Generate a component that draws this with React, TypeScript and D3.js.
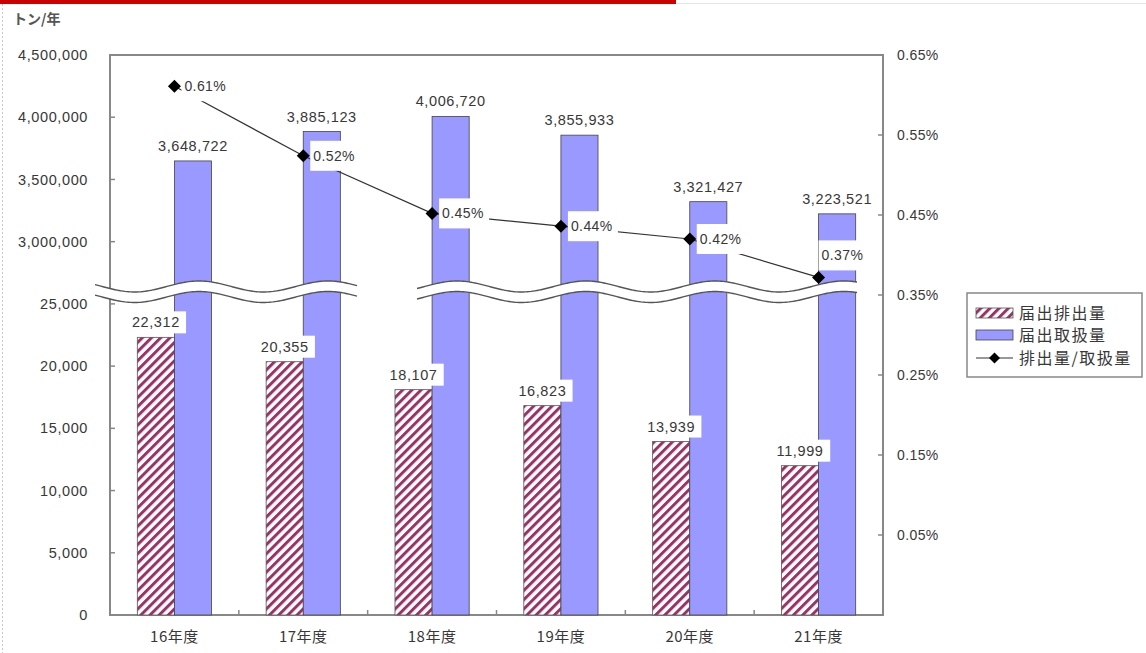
import React from "react";
import * as d3 from "d3";

const categories = ["16年度", "17年度", "18年度", "19年度", "20年度", "21年度"];
const emissions = [22312, 20355, 18107, 16823, 13939, 11999];
const handled = [3648722, 3885123, 4006720, 3855933, 3321427, 3223521];
const ratio = [0.611, 0.524, 0.452, 0.436, 0.42, 0.372];
const lowTicks = [0, 5000, 10000, 15000, 20000, 25000];
const highTicks = [3000000, 3500000, 4000000, 4500000];
const rightTicks = [0.05, 0.15, 0.25, 0.35, 0.45, 0.55, 0.65];
const legendLabels = ["届出排出量", "届出取扱量", "排出量/取扱量"];
const unitLabel = "トン/年";

const W = 1146, H = 653;
const L = 110, R = 883, T = 55, B = 615;
const NUM = "'Liberation Sans', Arial, sans-serif";
const JP = "'Noto Sans CJK JP', 'Noto Sans CJK SC', sans-serif";
const TXT = "#383838";

const x = d3.scaleBand<string>().domain(categories).range([L, R]).padding(0);
const units = d3.scaleLinear().domain([0, 9]).range([B, T]);
const yLow = d3.scaleLinear().domain([0, 25000]).range([units(0), units(5)]);
const yHigh = d3.scaleLinear().domain([3000000, 4500000]).range([units(6), units(9)]);
const yR = d3.scaleLinear().domain([-0.05, 0.65]).range([B, T]);
const fmt = d3.format(",");
const barW = x.bandwidth() * 0.288;

function wavePath(x0: number, x1: number) {
  const up = (xx: number) => 286.5 - 5.5 * Math.cos((2 * Math.PI * (xx - 70)) / 129);
  const pts: [number, number][] = d3.range(x0, x1 + 0.01, 2).map((xx) => [xx, up(xx)]);
  const upper = d3.line()(pts) as string;
  const lowerPts: [number, number][] = pts.map(([a, b]) => [a, b + 10.5]);
  const lower = d3.line()(lowerPts) as string;
  const fill = (d3.line()([...pts, ...lowerPts.slice().reverse()]) as string) + "Z";
  return { upper, lower, fill };
}
const waves = [wavePath(95, 358), wavePath(417, 858)];

const diamondPath = (r: number) => `M0,${-r}L${r},0L0,${r}L${-r},0Z`;

export default function App() {
  const cx = (c: string) => (x(c) as number) + x.bandwidth() / 2;
  const linePts: [number, number][] = categories.map((c, i) => [cx(c), yR(ratio[i])]);
  return (
    <svg width={W} height={H} style={{ position: "absolute", left: 0, top: 0, background: "#fff" }}>
      <defs>
        <pattern id="hatch" patternUnits="userSpaceOnUse" width={6.5} height={6.5} patternTransform="rotate(45)">
          <rect width={6.5} height={6.5} fill="#fff" />
          <rect width={3} height={6.5} fill="#993366" />
        </pattern>
      </defs>
      {/* page decorations */}
      <rect x={0} y={0} width={676} height={4} fill="#cc0000" />
      <line x1={676} y1={3.5} x2={W} y2={3.5} stroke="#e4e4e4" />
      <line x1={2.5} y1={4} x2={2.5} y2={H} stroke="#c8c8c8" strokeDasharray="2,2" />
      <text x={13} y={24} fontFamily={JP} fontSize={14} fontWeight="bold" fill="#555">{unitLabel}</text>

      {/* frame */}
      <rect x={L} y={T} width={R - L} height={B - T} fill="none" stroke="#888" strokeWidth={2} />
      {lowTicks.map((t) => (
        <g key={"l" + t}>
          <line x1={L} x2={L + 5} y1={yLow(t)} y2={yLow(t)} stroke="#888" strokeWidth={1.5} />
          <text x={88} y={yLow(t)} dy="0.35em" textAnchor="end" fontFamily={NUM} fontSize={14.5} letterSpacing={0.6} fill={TXT}>{fmt(t)}</text>
        </g>
      ))}
      {highTicks.map((t) => (
        <g key={"h" + t}>
          <line x1={L} x2={L + 5} y1={yHigh(t)} y2={yHigh(t)} stroke="#888" strokeWidth={1.5} />
          <text x={88} y={yHigh(t)} dy="0.35em" textAnchor="end" fontFamily={NUM} fontSize={14.5} letterSpacing={0.6} fill={TXT}>{fmt(t)}</text>
        </g>
      ))}
      {rightTicks.map((t) => (
        <g key={"r" + t}>
          <line x1={R - 5} x2={R} y1={yR(t)} y2={yR(t)} stroke="#888" strokeWidth={1.5} />
          <text x={897} y={yR(t)} dy="0.35em" fontFamily={NUM} fontSize={14} letterSpacing={0.4} fill={TXT}>{t.toFixed(2) + "%"}</text>
        </g>
      ))}
      {categories.slice(1).map((c) => (
        <line key={"b" + c} x1={x(c)} x2={x(c)} y1={B} y2={B - 5} stroke="#888" strokeWidth={1.5} />
      ))}
      {categories.map((c) => (
        <text key={"x" + c} x={cx(c)} y={642} textAnchor="middle" fontFamily={JP} fontSize={15} letterSpacing={0.5} fill={TXT}>{c}</text>
      ))}

      {/* bars */}
      {categories.map((c, i) => (
        <g key={"bar" + c}>
          <rect x={cx(c) - barW} y={yLow(emissions[i])} width={barW} height={B - yLow(emissions[i])} fill="url(#hatch)" stroke="#555" strokeWidth={0.8} />
          <rect x={cx(c)} y={yHigh(handled[i])} width={barW} height={B - yHigh(handled[i])} fill="#9999ff" stroke="#444" strokeWidth={0.8} />
        </g>
      ))}

      {/* axis break */}
      {waves.map((w, i) => (
        <g key={"w" + i}>
          <path d={w.fill} fill="#fff" stroke="none" />
          <path d={w.upper} fill="none" stroke="#555" strokeWidth={1.4} />
          <path d={w.lower} fill="none" stroke="#555" strokeWidth={1.4} />
        </g>
      ))}

      {/* ratio line */}
      <path d={d3.line()(linePts) as string} fill="none" stroke="#333" strokeWidth={1.2} />
      {linePts.map(([px, py], i) => (
        <path key={"m" + i} d={diamondPath(6.5)} transform={`translate(${px},${py})`} fill="#000" />
      ))}

      {/* bar value labels */}
      {categories.map((c, i) => {
        const tx = cx(c) - barW / 2;
        const ty = yLow(emissions[i]) - 15;
        const s = fmt(emissions[i]);
        const tw = s.length * 8.4;
        return (
          <g key={"el" + c}>
            <rect x={tx - tw / 2 - 5} y={ty - 11} width={tw + 10} height={22} fill="#fff" />
            <text x={tx} y={ty} dy="0.35em" textAnchor="middle" fontFamily={NUM} fontSize={14.5} letterSpacing={0.6} fill={TXT}>{s}</text>
          </g>
        );
      })}
      {categories.map((c, i) => {
        const tx = cx(c) + barW / 2;
        const ty = yHigh(handled[i]) - 15;
        return (
          <text key={"hl" + c} x={tx} y={ty} dy="0.35em" textAnchor="middle" fontFamily={NUM} fontSize={14.5} letterSpacing={0.6} fill={TXT}>{fmt(handled[i])}</text>
        );
      })}
      {linePts.map(([px, py], i) => {
        const last = i === linePts.length - 1;
        const tx = last ? px + 3 : px + 10;
        const ty = last ? py - 22 : py;
        return (
          <g key={"rl" + i}>
            <rect x={tx - 3} y={ty - 15} width={50} height={30} fill="#fff" />
            <text x={tx} y={ty} dy="0.35em" fontFamily={NUM} fontSize={14} letterSpacing={0.4} fill={TXT}>{ratio[i].toFixed(2) + "%"}</text>
          </g>
        );
      })}

      {/* legend */}
      <rect x={967} y={293} width={175} height={84} fill="#fff" stroke="#888" strokeWidth={1.5} />
      <rect x={976} y={308} width={37} height={10} fill="url(#hatch)" stroke="#555" strokeWidth={0.8} />
      <rect x={976} y={330} width={37} height={10} fill="#9999ff" stroke="#444" strokeWidth={0.8} />
      <line x1={976} x2={1013} y1={358} y2={358} stroke="#333" strokeWidth={1.2} />
      <path d={diamondPath(5.5)} transform="translate(994.5,358)" fill="#000" />
      {legendLabels.map((t, i) => (
        <text key={"lg" + i} x={1019} y={313 + i * 22.5} dy="0.35em" fontFamily={JP} fontSize={16} letterSpacing={1.5} fill={TXT}>{t}</text>
      ))}
    </svg>
  );
}
